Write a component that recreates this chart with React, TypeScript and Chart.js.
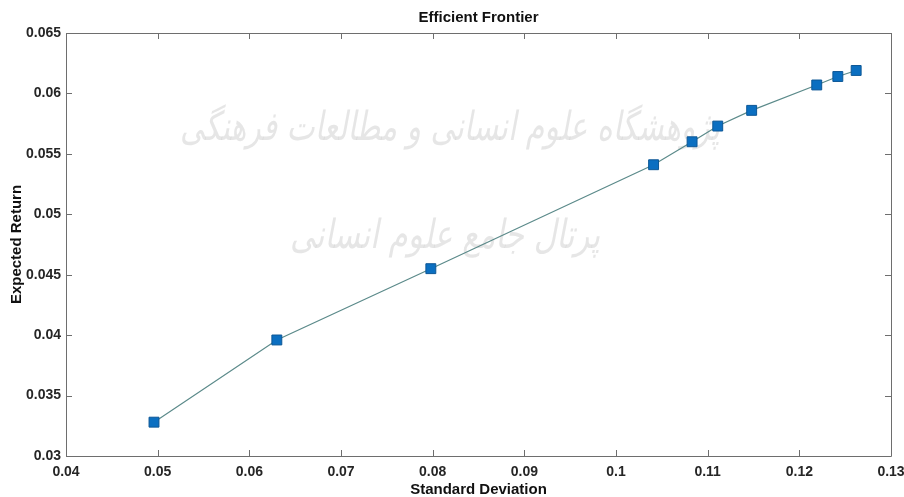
import React, { useEffect, useRef } from "react";
import { Chart, registerables } from "chart.js";

Chart.register(...registerables);

const stdDev = [0.0496, 0.063, 0.0798, 0.1041, 0.1083, 0.1111, 0.1148, 0.1219, 0.1242, 0.1262];
const expReturn = [0.0328, 0.0396, 0.0455, 0.0541, 0.056, 0.0573, 0.0586, 0.0607, 0.0614, 0.0619];

const xTicks = [0.04, 0.05, 0.06, 0.07, 0.08, 0.09, 0.1, 0.11, 0.12, 0.13];
const yTicks = [0.03, 0.035, 0.04, 0.045, 0.05, 0.055, 0.06, 0.065];

const titleText = "Efficient Frontier";
const xTitle = "Standard Deviation";
const yTitle = "Expected Return";
const watermark1 = "پژوهشگاه علوم انسانی و مطالعات فرهنگی";
const watermark2 = "پرتال جامع علوم انسانی";

const FONT = "'Liberation Sans', Arial, Helvetica, sans-serif";
const fmt = (v: number) => String(Number(Number(v).toFixed(4)));

const boxPlugin = {
  id: "matlabBox",
  beforeDatasetsDraw(chart: any) {
    const { ctx, chartArea } = chart;
    const { left, top, right, bottom } = chartArea;
    ctx.save();
    // faint watermark
    ctx.fillStyle = "rgba(200,200,200,0.45)";
    ctx.textAlign = "center";
    ctx.textBaseline = "middle";
    ctx.font = "italic 40px 'DejaVu Sans', sans-serif";
    ctx.fillText(watermark1, 450, 130, 540);
    ctx.fillText(watermark2, 445, 238, 310);
    // box
    ctx.strokeStyle = "#6e6e6e";
    ctx.lineWidth = 1;
    ctx.beginPath();
    ctx.rect(Math.round(left) + 0.5, Math.round(top) + 0.5, Math.round(right - left), Math.round(bottom - top));
    ctx.stroke();
    const xs = chart.scales.x;
    const ys = chart.scales.y;
    const tl = 6;
    ctx.beginPath();
    xTicks.forEach((v) => {
      const px = Math.round(xs.getPixelForValue(v)) + 0.5;
      ctx.moveTo(px, bottom);
      ctx.lineTo(px, bottom - tl);
      ctx.moveTo(px, top);
      ctx.lineTo(px, top + tl);
    });
    yTicks.forEach((v) => {
      const py = Math.round(ys.getPixelForValue(v)) + 0.5;
      ctx.moveTo(left, py);
      ctx.lineTo(left + tl, py);
      ctx.moveTo(right, py);
      ctx.lineTo(right - tl, py);
    });
    ctx.stroke();
    ctx.restore();
  },
};

export default function App() {
  const ref = useRef<HTMLCanvasElement | null>(null);
  useEffect(() => {
    if (!ref.current) return;
    const points = stdDev.map((x, i) => ({ x, y: expReturn[i] }));
    const chart = new Chart(ref.current, {
      type: "scatter",
      data: {
        datasets: [
          {
            label: "Frontier",
            data: points,
            showLine: true,
            borderColor: "#5b8a8a",
            borderWidth: 1.2,
            pointStyle: "rect",
            pointRadius: 7,
            pointBackgroundColor: "#0b6fc1",
            pointBorderColor: "#0d5796",
            pointBorderWidth: 1,
            tension: 0,
          },
        ],
      },
      options: {
        animation: false,
        responsive: false,
        maintainAspectRatio: false,
        layout: { padding: { left: 0, right: 13, top: 0, bottom: 0 } },
        plugins: {
          legend: { display: false },
          tooltip: { enabled: false },
          title: {
            display: true,
            fullSize: false,
            text: titleText,
            color: "#111",
            font: { family: FONT, size: 15, weight: "bold", lineHeight: 1.2 },
            padding: { top: 9, bottom: 6 },
          },
        },
        scales: {
          x: {
            type: "linear",
            min: 0.04,
            max: 0.13,
            afterBuildTicks: (s: any) => {
              s.ticks = xTicks.map((v) => ({ value: v }));
            },
            afterFit: (s: any) => {
              s.height = 41;
              s.paddingRight = 0;
              s.paddingLeft = 0;
            },
            grid: { display: false, drawTicks: false },
            border: { display: false },
            ticks: {
              color: "#262626",
              font: { family: FONT, size: 14, weight: "bold" },
              padding: 8,
              maxRotation: 0,
              autoSkip: false,
              callback: (v: any) => fmt(v),
            },
            title: {
              display: true,
              text: xTitle,
              color: "#111",
              font: { family: FONT, size: 15, weight: "bold", lineHeight: 1 },
              padding: { top: 0, bottom: 0 },
            },
          },
          y: {
            type: "linear",
            min: 0.03,
            max: 0.065,
            afterBuildTicks: (s: any) => {
              s.ticks = yTicks.map((v) => ({ value: v }));
            },
            afterFit: (s: any) => {
              s.width = 66;
            },
            grid: { display: false, drawTicks: false },
            border: { display: false },
            ticks: {
              color: "#262626",
              font: { family: FONT, size: 14, weight: "bold" },
              padding: 5,
              autoSkip: false,
              callback: (v: any) => fmt(v),
            },
            title: {
              display: true,
              text: yTitle,
              color: "#111",
              font: { family: FONT, size: 15, weight: "bold", lineHeight: 1 },
              padding: { top: 9, bottom: 0 },
            },
          },
        },
      },
      plugins: [boxPlugin],
    } as any);
    return () => chart.destroy();
  }, []);
  return (
    <div style={{ position: "fixed", left: 0, top: 0, width: 904, height: 497, background: "#fff" }}>
      <canvas ref={ref} width={904} height={497} style={{ width: 904, height: 497, display: "block" }} />
    </div>
  );
}
